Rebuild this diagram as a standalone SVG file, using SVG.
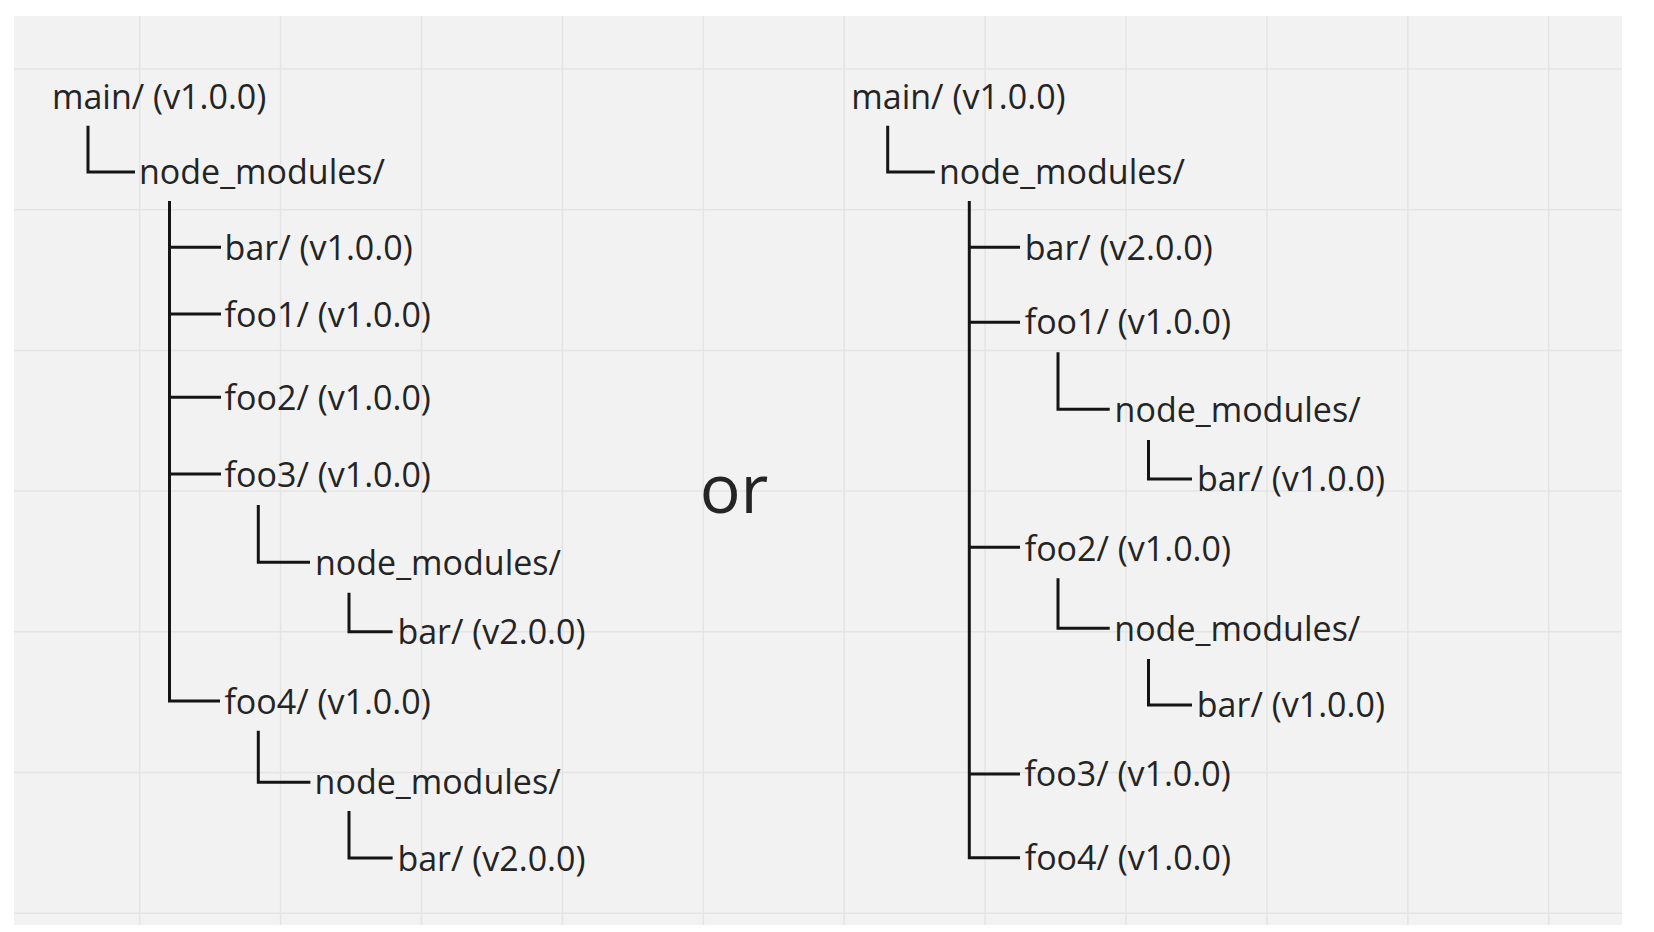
<svg xmlns="http://www.w3.org/2000/svg" width="1654" height="932" viewBox="0 0 1654 932">
<style>
.t{font-family:"Open Sans","Noto Sans","Liberation Sans",sans-serif;font-size:34px;fill:#242424}
.or{font-family:"Open Sans","Noto Sans","Liberation Sans",sans-serif;font-size:68px;fill:#242424}
.c{fill:none;stroke:#141414;stroke-width:3;stroke-linecap:butt;stroke-linejoin:miter}
.g{stroke:#e4e4e4;stroke-width:1.5}
</style>
<rect x="0" y="0" width="1654" height="932" fill="#ffffff"/>
<rect x="14" y="16" width="1608" height="909" fill="#f2f2f2"/>
<g id="grid">
<line class="g" x1="139.7" y1="16" x2="139.7" y2="925"/>
<line class="g" x1="280.6" y1="16" x2="280.6" y2="925"/>
<line class="g" x1="421.5" y1="16" x2="421.5" y2="925"/>
<line class="g" x1="562.4" y1="16" x2="562.4" y2="925"/>
<line class="g" x1="703.3" y1="16" x2="703.3" y2="925"/>
<line class="g" x1="844.2" y1="16" x2="844.2" y2="925"/>
<line class="g" x1="985.1" y1="16" x2="985.1" y2="925"/>
<line class="g" x1="1126" y1="16" x2="1126" y2="925"/>
<line class="g" x1="1266.9" y1="16" x2="1266.9" y2="925"/>
<line class="g" x1="1407.8" y1="16" x2="1407.8" y2="925"/>
<line class="g" x1="1548.7" y1="16" x2="1548.7" y2="925"/>
<line class="g" x1="14" y1="69" x2="1622" y2="69"/>
<line class="g" x1="14" y1="209.7" x2="1622" y2="209.7"/>
<line class="g" x1="14" y1="350.4" x2="1622" y2="350.4"/>
<line class="g" x1="14" y1="491.1" x2="1622" y2="491.1"/>
<line class="g" x1="14" y1="631.8" x2="1622" y2="631.8"/>
<line class="g" x1="14" y1="772.5" x2="1622" y2="772.5"/>
<line class="g" x1="14" y1="913.2" x2="1622" y2="913.2"/>
</g>
<g id="connectors">
<path class="c" d="M88,125.7 V172 H135"/>
<path class="c" d="M169.5,201 V701 H220"/>
<path class="c" d="M169.5,247.3 H221 M169.5,314 H221 M169.5,397.3 H221 M169.5,474 H221"/>
<path class="c" d="M258.3,505 V562.3 H310"/>
<path class="c" d="M349,592.7 V631.7 H392.6"/>
<path class="c" d="M258.3,730.7 V782.3 H310.4"/>
<path class="c" d="M349,811 V858 H392.6"/>
<path class="c" d="M887.7,125.7 V172 H934.8"/>
<path class="c" d="M969.3,201 V857.7 H1020"/>
<path class="c" d="M969.3,247.3 H1020 M969.3,322.3 H1020 M969.3,547.3 H1020 M969.3,774 H1020"/>
<path class="c" d="M1058,352.3 V409.3 H1109.7"/>
<path class="c" d="M1148.5,440 V479 H1192"/>
<path class="c" d="M1058,578.3 V628.3 H1109.7"/>
<path class="c" d="M1148.5,659 V705 H1192"/>
</g>
<g id="left-main"><text class="t" x="52" y="109">main/ (v1.0.0)</text></g>
<g id="left-nm"><text class="t" x="139" y="184">node_modules/</text></g>
<g id="left-bar"><text class="t" x="224.6" y="260">bar/ (v1.0.0)</text></g>
<g id="left-foo1"><text class="t" x="224.6" y="326.7">foo1/ (v1.0.0)</text></g>
<g id="left-foo2"><text class="t" x="224.6" y="410">foo2/ (v1.0.0)</text></g>
<g id="left-foo3"><text class="t" x="224.6" y="487.3">foo3/ (v1.0.0)</text></g>
<g id="left-foo3-nm"><text class="t" x="315" y="575">node_modules/</text></g>
<g id="left-foo3-bar"><text class="t" x="397.4" y="644.3">bar/ (v2.0.0)</text></g>
<g id="left-foo4"><text class="t" x="224.4" y="714">foo4/ (v1.0.0)</text></g>
<g id="left-foo4-nm"><text class="t" x="314.6" y="794">node_modules/</text></g>
<g id="left-foo4-bar"><text class="t" x="397.4" y="870.7">bar/ (v2.0.0)</text></g>
<g id="or"><text class="or" x="699.7" y="513">or</text></g>
<g id="right-main"><text class="t" x="851.3" y="109">main/ (v1.0.0)</text></g>
<g id="right-nm"><text class="t" x="939" y="184">node_modules/</text></g>
<g id="right-bar"><text class="t" x="1024.7" y="260">bar/ (v2.0.0)</text></g>
<g id="right-foo1"><text class="t" x="1024.7" y="334.3">foo1/ (v1.0.0)</text></g>
<g id="right-foo1-nm"><text class="t" x="1114.6" y="422.3">node_modules/</text></g>
<g id="right-foo1-bar"><text class="t" x="1196.9" y="491">bar/ (v1.0.0)</text></g>
<g id="right-foo2"><text class="t" x="1024.7" y="560.7">foo2/ (v1.0.0)</text></g>
<g id="right-foo2-nm"><text class="t" x="1114.3" y="640.7">node_modules/</text></g>
<g id="right-foo2-bar"><text class="t" x="1196.8" y="716.7">bar/ (v1.0.0)</text></g>
<g id="right-foo3"><text class="t" x="1024.4" y="785.7">foo3/ (v1.0.0)</text></g>
<g id="right-foo4"><text class="t" x="1024.7" y="869.5">foo4/ (v1.0.0)</text></g>
</svg>
